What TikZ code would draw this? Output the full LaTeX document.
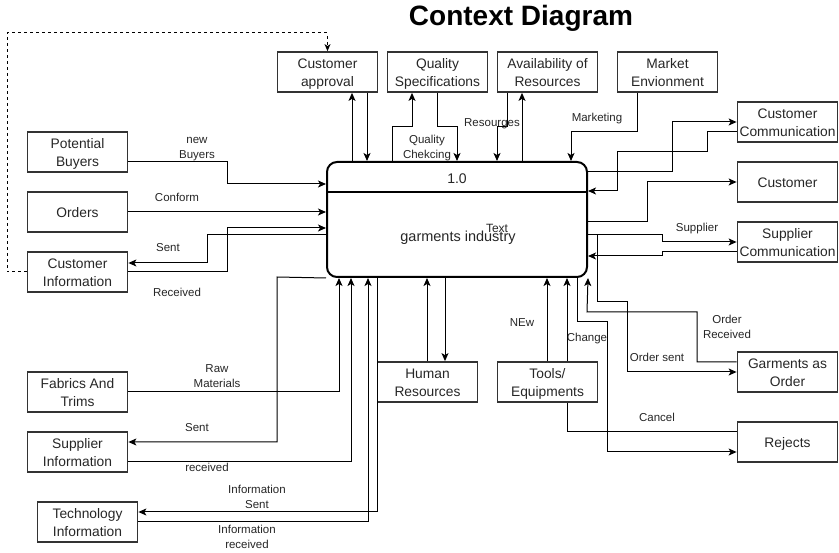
\documentclass[tikz,border=0pt]{standalone}
\usepackage{fontspec}
\setmainfont{Liberation Sans}
\usetikzlibrary{arrows.meta}
\definecolor{boxc}{HTML}{333333}
\definecolor{txtc}{HTML}{262626}
\newcommand\bxt[1]{\raisebox{-2pt}[\height][\depth]{\begin{tabular}{@{}c@{}}#1\end{tabular}}}
\newcommand\lbt[1]{\begin{tabular}{@{}c@{}}#1\end{tabular}}
\begin{document}
\begin{tikzpicture}[x=1pt,y=-1pt,
  ent/.style={draw=boxc, line width=1.8pt, minimum width=100pt, minimum height=40pt, inner sep=0pt, text=txtc, font=\fontsize{13.8}{17.2}\selectfont},
  lbl/.style={inner sep=0pt, text=txtc, font=\fontsize{11.5}{15}\selectfont},
  conn/.style={draw=black, line width=1pt},
  arr/.style={conn, -{Stealth[length=8pt,width=7pt,inset=2pt]}},
  dasharr/.style={conn, dashed, -{Stealth[length=7pt,width=6pt,inset=2pt]}}
]
\useasboundingbox (0,0) rectangle (839,553);

\node[font=\bfseries\fontsize{28}{30}\selectfont, anchor=base, inner sep=0pt] (title) at (521,26) {Context Diagram};

% process
\node[draw=black, line width=2pt, rounded corners=10pt, minimum width=260pt, minimum height=115pt, inner sep=0pt] (proc) at (457,219.5) {};
\draw[line width=2pt] (proc.west |- 0,192) -- (proc.east |- 0,192);
\node[lbl, font=\fontsize{14}{16}\selectfont] (pid) at (457,179) {1.0};
\node[lbl, font=\fontsize{14.5}{16}\selectfont] (pname) at (458,238) {garments industry};
\node[lbl, font=\fontsize{12}{14}\selectfont] (ptext) at (497,228) {Text};

% entities
\node[ent] (ca) at (327.5,72) {\bxt{Customer\\approval}};
\node[ent] (qs) at (437.5,72) {\bxt{Quality\\Specifications}};
\node[ent] (ar) at (547.5,72) {\bxt{Availability of\\Resources}};
\node[ent] (me) at (667.5,72) {\bxt{Market\\Envionment}};
\node[ent] (cc) at (787.5,122) {\bxt{Customer\\Communication}};
\node[ent] (cu) at (787.5,182) {\bxt{Customer}};
\node[ent] (sc) at (787.5,242) {\bxt{Supplier\\Communication}};
\node[ent] (go) at (787.5,372) {\bxt{Garments as\\Order}};
\node[ent] (rj) at (787.5,442) {\bxt{Rejects}};
\node[ent] (pb) at (77.5,152) {\bxt{Potential\\Buyers}};
\node[ent] (od) at (77.5,212) {\bxt{Orders}};
\node[ent] (ci) at (77.5,272) {\bxt{Customer\\Information}};
\node[ent] (ft) at (77.5,392) {\bxt{Fabrics And\\Trims}};
\node[ent] (si) at (77.5,452) {\bxt{Supplier\\Information}};
\node[ent] (ti) at (87.5,522) {\bxt{Technology\\Information}};
\node[ent] (hr) at (427.5,382) {\bxt{Human\\Resources}};
\node[ent] (te) at (547.5,382) {\bxt{Tools/\\Equipments}};

% dashed loop
\draw[dasharr] (ci.west) -- (7,272) -- (7,33) -- (327.5,33) -- (ca.north);

% top
\draw[arr] (proc.north -| 352,0) -- (ca.south -| 352,0);
\draw[arr] (ca.south -| 367,0) -- (proc.north -| 367,0);
\draw[arr] (proc.north -| 392,0) -- (392,127) -- (412,127) -- (qs.south -| 412,0);
\draw[arr] (qs.south -| 437,0) -- (437,127) -- (457,127) -- (proc.north -| 457,0);
\draw[arr] (ar.south -| 507,0) -- (507,127) -- (497,127) -- (proc.north -| 497,0);
\draw[arr] (proc.north -| 522,0) -- (ar.south -| 522,0);
\draw[arr] (me.south -| 637,0) -- (637,132) -- (571,132) -- (proc.north -| 571,0);
\node[lbl] (l1) at (427,148) {\lbt{Quality\\Chekcing}};
\node[lbl] (l2) at (492,124) {\lbt{Resourges}};
\node[lbl] (l3) at (597,119) {\lbt{Marketing}};

% right
\draw[arr] (proc.east |- 0,172) -- (672,172) -- (672,122) -- (cc.west);
\draw[arr] (cc.west |- 0,132) -- (707,132) -- (707,152) -- (617,152) -- (617,191) -- (proc.east |- 0,191);
\draw[arr] (proc.east |- 0,222) -- (647,222) -- (647,182) -- (cu.west);
\draw[arr] (proc.east |- 0,235) -- (662,235) -- (662,242) -- (sc.west);
\draw[arr] (sc.west |- 0,252) -- (662,252) -- (662,256) -- (proc.east |- 0,256);
\node[lbl] (l4) at (697,229) {\lbt{Supplier}};
\draw[arr] (proc.east |- 0,235) -- (597,235) -- (597,302) -- (627,302) -- (627,372) -- (go.west);
\draw[arr] (go.west |- 0,362) -- (697,362) -- (697,312) -- (587,312) -- (proc.south east);
\node[lbl] (l5) at (657,359) {\lbt{Order sent}};
\node[lbl] (l6) at (727,328) {\lbt{Order\\Received}};
\draw[arr] (proc.south -| 577,0) -- (577,322) -- (607,322) -- (607,452) -- (rj.west |- 0,452);
\draw[conn] (te.south -| 567,0) -- (567,432) -- (rj.west |- 0,432);
\node[lbl] (l7) at (587,339) {\lbt{Change}};
\node[lbl] (l8) at (657,419) {\lbt{Cancel}};

% bottom
\draw[arr] (te.north -| 547,0) -- (proc.south -| 547,0);
\draw[arr] (te.north -| 567,0) -- (proc.south -| 567,0);
\node[lbl] (l9) at (522,324) {\lbt{NEw}};
\draw[arr] (hr.north -| 427,0) -- (proc.south -| 427,0);
\draw[arr] (proc.south -| 445,0) -- (hr.north -| 445,0);

% left bottom
\draw[arr] (ft.east) -- (339,392) -- (proc.south -| 339,0);
\draw[arr] (proc.south west) -- (277,277) -- (277,442) -- (si.east |- 0,442);
\draw[arr] (si.east |- 0,462) -- (351,462) -- (proc.south -| 351,0);
\draw[arr] (proc.south -| 377,0) -- (377,512) -- (ti.east |- 0,512);
\draw[arr] (ti.east |- 0,522) -- (368,522) -- (proc.south -| 368,0);
\node[lbl] (l10) at (217,377) {\lbt{Raw\\Materials}};
\node[lbl] (l11) at (197,429) {\lbt{Sent}};
\node[lbl] (l12) at (207,469) {\lbt{received}};
\node[lbl] (l13) at (257,498) {\lbt{Information\\Sent}};
\node[lbl] (l14) at (247,538) {\lbt{Information\\received}};

% left top
\draw[arr] (pb.east |- 0,162) -- (227,162) -- (227,184) -- (proc.west |- 0,184);
\draw[arr] (od.east) -- (proc.west |- 0,212);
\draw[arr] (ci.east) -- (227,272) -- (227,228) -- (proc.west |- 0,228);
\draw[arr] (proc.west |- 0,235) -- (207,235) -- (207,263) -- (ci.east |- 0,263);
\node[lbl] (l15) at (197,148) {\lbt{new\\Buyers}};
\node[lbl] (l16) at (177,199) {\lbt{Conform}};
\node[lbl] (l17) at (168,249) {\lbt{Sent}};
\node[lbl] (l18) at (177,294) {\lbt{Received}};
\end{tikzpicture}
\end{document}
